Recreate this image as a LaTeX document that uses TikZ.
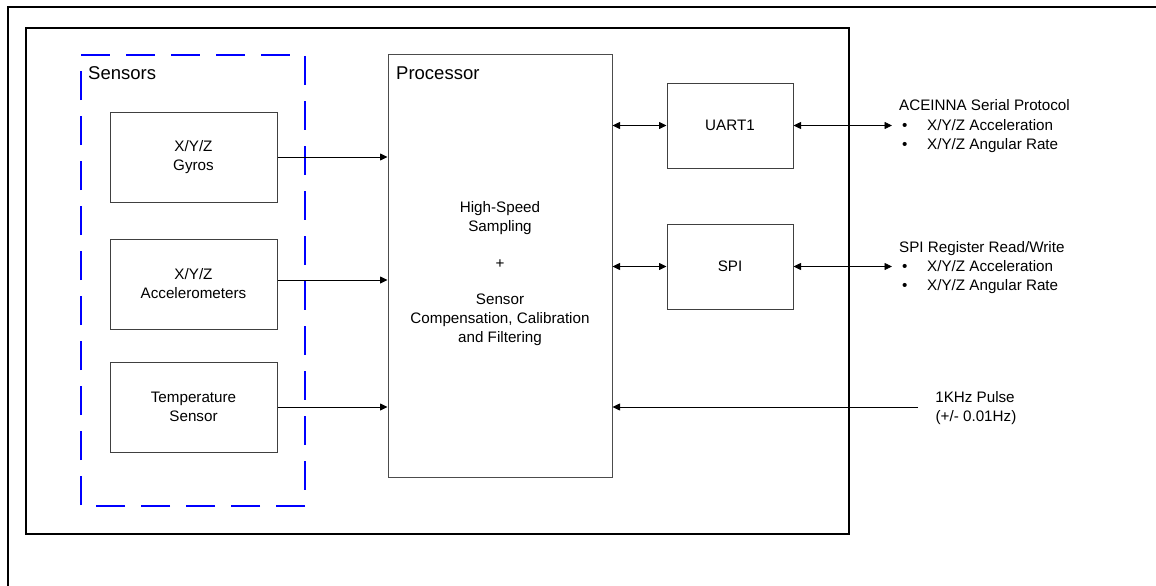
\documentclass[tikz,border=0pt]{standalone}
\usepackage{fontspec}
\setmainfont{Liberation Sans}
\usetikzlibrary{arrows.meta}
\begin{document}
\begin{tikzpicture}[x=1pt,y=-1pt,
  body/.style={font=\fontsize{15.2}{19}\selectfont},
  head/.style={font=\fontsize{18.5}{22}\selectfont},
  block/.style={draw=black!75, line width=1pt, minimum width=167pt, minimum height=90pt, inner sep=0pt, align=center, body},
  iobox/.style={draw=black!75, line width=1pt, minimum width=126pt, minimum height=85pt, inner sep=0pt, align=center, body},
  txt/.style={body, inner sep=0pt, anchor=base west},
  tip/.tip={Triangle[length=7.5pt,width=7pt]},
  arr/.style={-tip, line width=0.8pt},
  darr/.style={tip-tip, line width=0.8pt},
  sensorsbox/.style={draw=blue, line width=1.8pt, dash pattern=on 29pt off 16pt}
]
\useasboundingbox (0,0) rectangle (1156,586);
% outer frame
\draw[line width=2pt] (8,586) -- (8,7) -- (1156,7);
% board
\draw[line width=1.6pt] (26,28) rectangle (849,534);
% sensors group
\draw[sensorsbox] (81,55) -- (305,55) -- (305,506) -- (81,506) -- cycle;
\node[head, anchor=base west, inner sep=0pt] (sensorslabel) at (88,79.3) {Sensors};
% sensor blocks
\node[block] (gyro) at (193.5,157) {X/Y/Z\\Gyros};
\node[block] (accel) at (193.5,284) {X/Y/Z\\Accelerometers};
\node[block] (temp) at (193.5,407) {Temperature\\Sensor};
% processor
\node[draw=black!70, line width=1pt, minimum width=224pt, minimum height=422pt, inner sep=0pt] (proc) at (500,266) {};
\node[head, anchor=base west, inner sep=0pt] (proclabel) at (396,79.3) {Processor};
\node[font=\fontsize{15.2}{18.9}\selectfont, align=center, inner sep=0pt, anchor=base] (proctext) at (500,342.5)
  {High-Speed\\Sampling\\[18.9pt]+\\[17pt]Sensor\\Compensation, Calibration\\and Filtering};
% interfaces
\node[iobox] (uart) at (730,125.5) {UART1};
\node[iobox] (spi) at (730,266.5) {SPI};
% sensor arrows
\coordinate (aout) at ([yshift=4pt]accel.east);
\draw[arr] (gyro.east) -- (proc.west |- gyro.east);
\draw[arr] (aout) -- (proc.west |- aout);
\draw[arr] (temp.east) -- (proc.west |- temp.east);
% interface arrows
\coordinate (uartout) at (892,125.5);
\coordinate (spiout) at (892,266.5);
\draw[darr] (proc.east |- uart.west) -- (uart.west);
\draw[darr] (uart.east) -- (uartout);
\draw[darr] (proc.east |- spi.west) -- (spi.west);
\draw[darr] (spi.east) -- (spiout);
% pulse
\coordinate (pulsein) at (918,407);
\draw[arr] (pulsein) -- (proc.east |- pulsein);
% right texts
\node[txt] (acehead) at (899,110.5) {ACEINNA Serial Protocol};
\node[txt] (ace1) at (902,130.5) {\makebox[25pt][l]{\textbullet}X/Y/Z Acceleration};
\node[txt] (ace2) at (902,149.5) {\makebox[25pt][l]{\textbullet}X/Y/Z Angular Rate};
\node[txt] (spihead) at (899,252.5) {SPI Register Read/Write};
\node[txt] (spi1) at (902,271.5) {\makebox[25pt][l]{\textbullet}X/Y/Z Acceleration};
\node[txt] (spi2) at (902,290.5) {\makebox[25pt][l]{\textbullet}X/Y/Z Angular Rate};
\node[body, inner sep=0pt, anchor=base] (pulse1) at (975,402.5) {1KHz Pulse};
\node[body, inner sep=0pt, anchor=base] (pulse2) at (976,421.5) {(+/- 0.01Hz)};
\end{tikzpicture}
\end{document}
